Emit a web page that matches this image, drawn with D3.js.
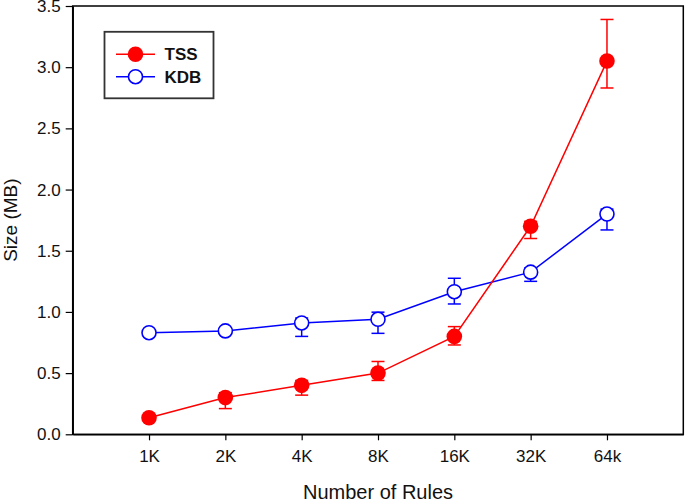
<!DOCTYPE html>
<html>
<head>
<meta charset="utf-8">
<script src="https://d3js.org/d3.v7.min.js"></script>
<style>
body { margin: 0; background: #fff; }
svg { display: block; font-family: "Liberation Sans", Arial, sans-serif; }
</style>
</head>
<body>
<svg id="chart" width="685" height="502"></svg>
<script>
// data
var rules = ["1K", "2K", "4K", "8K", "16K", "32K", "64k"];
var tss    = [0.135, 0.30, 0.40, 0.50, 0.80, 1.70, 3.05];
var tssLo  = [0.135, 0.21, 0.32, 0.44, 0.73, 1.60, 2.83];
var tssHi  = [0.135, 0.34, 0.44, 0.595, 0.88, 1.74, 3.39];
var kdb    = [0.83, 0.845, 0.91, 0.94, 1.165, 1.325, 1.80];
var kdbLo  = [0.83, 0.83, 0.80, 0.825, 1.065, 1.25, 1.67];
var kdbHi  = [0.83, 0.86, 0.95, 0.998, 1.275, 1.36, 1.84];
var yTicks = [0, 0.5, 1.0, 1.5, 2.0, 2.5, 3.0, 3.5];

var svg = d3.select("#chart");
var pLeft = 72.7, pRight = 683.3, pTop = 6, pBottom = 434.3;

var x = d3.scaleLinear().domain([0, rules.length + 1]).range([pLeft, pRight]);
var y = d3.scaleLinear().domain([0, 3.5]).range([pBottom, pTop]);

// frame
svg.append("rect")
	.attr("x", pLeft).attr("y", pTop)
	.attr("width", pRight - pLeft).attr("height", pBottom - pTop)
	.attr("fill", "none").attr("stroke", "#000").attr("stroke-width", 1.5);

// axes
var xAxis = d3.axisBottom(x)
	.tickValues(d3.range(1, rules.length + 1))
	.tickFormat(function(d) { return rules[d - 1]; })
	.tickSize(6).tickSizeOuter(0).tickPadding(10);
var gx = svg.append("g").attr("transform", "translate(0," + pBottom + ")").call(xAxis);

var yAxis = d3.axisLeft(y)
	.tickValues(yTicks)
	.tickFormat(d3.format(".1f"))
	.tickSize(7).tickSizeOuter(0).tickPadding(5);
var gy = svg.append("g").attr("transform", "translate(" + pLeft + ",0)").call(yAxis);

[gx, gy].forEach(function(g) {
	g.attr("font-size", null).attr("font-family", null);
	g.select(".domain").attr("stroke-width", 1.5);
	g.selectAll(".tick line").attr("stroke-width", 1.2);
	g.selectAll(".tick text").style("font-size", "17px").attr("fill", "#111");
});

svg.append("text")
	.attr("x", (pLeft + pRight) / 2).attr("y", 499)
	.attr("text-anchor", "middle").style("font-size", "20px").attr("fill", "#111")
	.text("Number of Rules");

svg.append("text")
	.attr("transform", "translate(17," + ((pTop + pBottom) / 2) + ") rotate(-90)")
	.attr("text-anchor", "middle").style("font-size", "19px").attr("fill", "#111")
	.text("Size (MB)");

function drawSeries(vals, lo, hi, color, filled) {
	var g = svg.append("g");
	var line = d3.line()
		.x(function(d, i) { return x(i + 1); })
		.y(function(d) { return y(d); });

	// error bars
	vals.forEach(function(v, i) {
		if (hi[i] - lo[i] < 0.001) return;
		var cx = x(i + 1);
		g.append("line").attr("x1", cx).attr("x2", cx)
			.attr("y1", y(lo[i])).attr("y2", y(hi[i]))
			.attr("stroke", color).attr("stroke-width", 1.5);
		[lo[i], hi[i]].forEach(function(e) {
			g.append("line").attr("x1", cx - 6.5).attr("x2", cx + 6.5)
				.attr("y1", y(e)).attr("y2", y(e))
				.attr("stroke", color).attr("stroke-width", 1.5);
		});
	});

	g.append("path").datum(vals)
		.attr("d", line)
		.attr("fill", "none").attr("stroke", color).attr("stroke-width", 1.5);

	g.selectAll("circle").data(vals).enter().append("circle")
		.attr("cx", function(d, i) { return x(i + 1); })
		.attr("cy", function(d) { return y(d); })
		.attr("r", filled ? 7.8 : 7)
		.attr("fill", filled ? color : "#fff")
		.attr("stroke", color).attr("stroke-width", filled ? 0 : 1.6);
}

drawSeries(kdb, kdbLo, kdbHi, "#0000ff", false);
drawSeries(tss, tssLo, tssHi, "#ff0000", true);

// legend
var lg = svg.append("g");
lg.append("rect")
	.attr("x", 104.5).attr("y", 31.8).attr("width", 109).attr("height", 66.5)
	.attr("fill", "#fff").attr("stroke", "#333").attr("stroke-width", 1.8);

var legendItems = [
	{ name: "TSS", color: "#ff0000", filled: true, cy: 54.3 },
	{ name: "KDB", color: "#0000ff", filled: false, cy: 76.7 }
];
legendItems.forEach(function(d) {
	lg.append("line").attr("x1", 116).attr("x2", 155).attr("y1", d.cy).attr("y2", d.cy)
		.attr("stroke", d.color).attr("stroke-width", 1.5);
	lg.append("circle").attr("cx", 135.5).attr("cy", d.cy)
		.attr("r", d.filled ? 7.8 : 7)
		.attr("fill", d.filled ? d.color : "#fff")
		.attr("stroke", d.color).attr("stroke-width", d.filled ? 0 : 1.6);
	lg.append("text").attr("x", 164.5).attr("y", d.cy + 6)
		.style("font-size", "17px").attr("font-weight", "bold").attr("fill", "#111")
		.text(d.name);
});
</script>
</body>
</html>
